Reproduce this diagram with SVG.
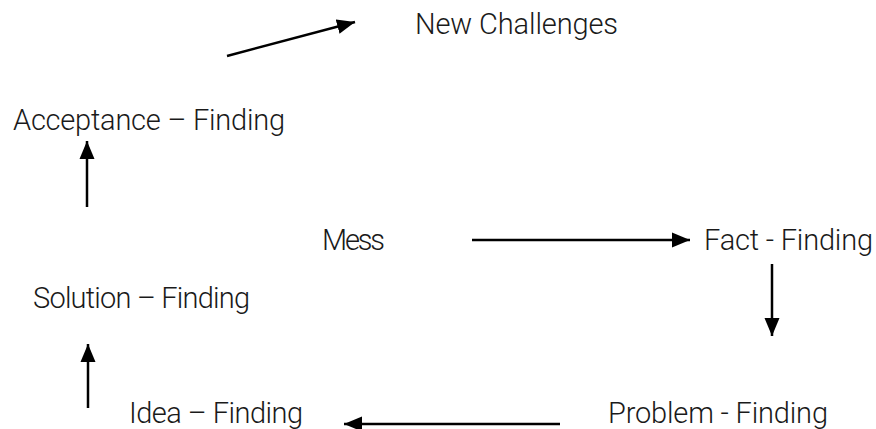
<svg xmlns="http://www.w3.org/2000/svg" width="876" height="429" viewBox="0 0 876 429">
<defs>
<marker id="ah" viewBox="0 0 12 10" refX="12" refY="5" markerWidth="7.2" markerHeight="6.2" markerUnits="strokeWidth" orient="auto">
<path d="M0,0 L12,5 L0,10 z" fill="#000"/>
</marker>
<style>
text{font-family:Roboto,"Liberation Sans",Arial,sans-serif;font-weight:300;font-size:29px;fill:#1a1a1a}
.c{stroke:#000;stroke-width:2.5;fill:none;marker-end:url(#ah)}
</style>
</defs>
<rect width="876" height="429" fill="#fff"/>
<g id="new-challenges"><text x="415" y="34" textLength="203" lengthAdjust="spacing">New Challenges</text></g>
<g id="acceptance"><text x="13" y="130" textLength="272" lengthAdjust="spacing">Acceptance – Finding</text></g>
<g id="mess"><text x="322" y="250" textLength="63" lengthAdjust="spacing">Mess</text></g>
<g id="fact"><text x="704" y="250" textLength="169" lengthAdjust="spacing">Fact - Finding</text></g>
<g id="solution"><text x="33" y="308" textLength="217" lengthAdjust="spacing">Solution – Finding</text></g>
<g id="idea"><text x="129" y="423" textLength="174" lengthAdjust="spacing">Idea – Finding</text></g>
<g id="problem"><text x="608" y="423" textLength="220" lengthAdjust="spacing">Problem - Finding</text></g>
<g id="connectors">
<line class="c" x1="227" y1="56" x2="355" y2="22"/>
<line class="c" x1="87" y1="207" x2="87" y2="141"/>
<line class="c" x1="472" y1="240" x2="690" y2="240"/>
<line class="c" x1="772" y1="264" x2="772" y2="336"/>
<line class="c" x1="560" y1="424" x2="344" y2="424"/>
<line class="c" x1="88" y1="408" x2="88" y2="344"/>
</g>
</svg>
